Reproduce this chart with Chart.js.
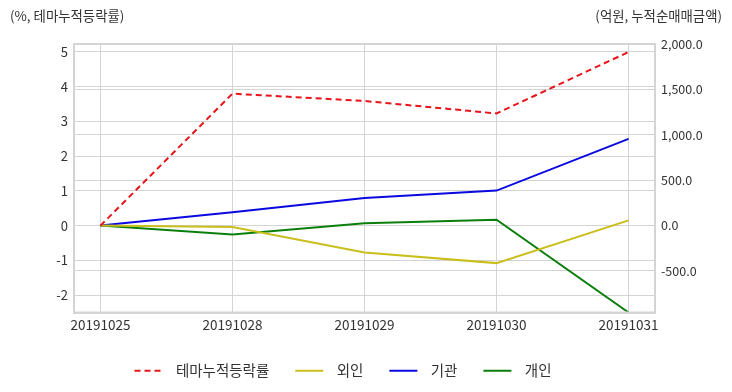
<!DOCTYPE html>
<html>
<head>
<meta charset="utf-8">
<script src="https://cdn.jsdelivr.net/npm/chart.js@4/dist/chart.umd.min.js"></script>
<style>
  html, body { margin: 0; padding: 0; background: #fff; }
  #wrap { width: 732px; height: 392px; position: relative; }
</style>
</head>
<body>
<div id="wrap"><canvas id="themeChart"></canvas></div>
<script>
const dates = ["20191025", "20191028", "20191029", "20191030", "20191031"];
const themeRate = [0, 3.80, 3.59, 3.23, 5.00];     // %, left axis
const foreign = [0, -17, -296, -414, 57];           // 억원, right axis
const institution = [0, 146, 304, 385, 955];
const individual = [0, -100, 24, 65, -958];
const leftTicks = [-2, -1, 0, 1, 2, 3, 4, 5];
const rightTicks = [-500, 0, 500, 1000, 1500, 2000];
const leftTitle = "(%, 테마누적등락률)";
const rightTitle = "(억원, 누적순매매금액)";

const FONT = '"Noto Sans CJK KR", "Noto Sans", sans-serif';
const TEXT = "#333";
const GRID = "#d4d4d4";

const toPoints = arr => arr.map((v, i) => ({ x: i, y: v }));

// axis titles at the top corners + frame
const extras = {
  id: "extras",
  beforeDraw(chart) {
    // legend sits a bit left of centre in the original
    chart.legend.left -= 23;
    chart.legend.right -= 23;
  },
  afterDraw(chart) {
    const ctx = chart.ctx;
    const a = chart.chartArea;
    ctx.save();
    ctx.strokeStyle = GRID;
    ctx.lineWidth = 2;
    ctx.strokeRect(a.left, a.top, a.right - a.left, a.bottom - a.top);
    ctx.font = "13.4px " + FONT;
    ctx.fillStyle = TEXT;
    ctx.textBaseline = "middle";
    ctx.textAlign = "left";
    ctx.fillText(leftTitle, 10, 16);
    ctx.textAlign = "right";
    ctx.fillText(rightTitle, 722, 16);
    ctx.restore();
  }
};

const setTicks = list => axis => {
  axis.ticks = list.map(v => ({ value: v }));
};

new Chart(document.getElementById("themeChart"), {
  type: "line",
  data: {
    datasets: [
      { label: "테마누적등락률", data: toPoints(themeRate), yAxisID: "y",
        borderColor: "#e8141a", backgroundColor: "#e8141a", borderDash: [6, 4], borderWidth: 2 },
      { label: "외인", data: toPoints(foreign), yAxisID: "y2",
        borderColor: "#c9bf1c", backgroundColor: "#c9bf1c", borderWidth: 2 },
      { label: "기관", data: toPoints(institution), yAxisID: "y2",
        borderColor: "#0a0ae0", backgroundColor: "#0a0ae0", borderWidth: 2 },
      { label: "개인", data: toPoints(individual), yAxisID: "y2",
        borderColor: "#0b7f0b", backgroundColor: "#0b7f0b", borderWidth: 2 }
    ]
  },
  options: {
    responsive: true,
    maintainAspectRatio: false,
    animation: false,
    layout: { padding: { top: 44, bottom: 4, left: 0, right: 0 } },
    elements: { point: { radius: 0 }, line: { tension: 0 } },
    scales: {
      x: {
        type: "linear",
        min: -0.2,
        max: 4.2,
        afterBuildTicks: setTicks([0, 1, 2, 3, 4]),
        afterFit: s => { s.height = 25; },
        grid: { color: GRID, drawTicks: false },
        border: { color: GRID, width: 2 },
        ticks: {
          autoSkip: false,
          padding: 4,
          maxRotation: 0,
          color: TEXT,
          font: { family: FONT, size: 13.5 },
          callback: v => dates[v]
        }
      },
      y: {
        position: "left",
        min: -2.5,
        max: 5.23,
        afterBuildTicks: setTicks(leftTicks),
        afterFit: s => { s.width = 74; },
        grid: { color: GRID, drawTicks: false },
        border: { color: GRID, width: 2 },
        ticks: {
          autoSkip: false,
          padding: 6,
          color: TEXT,
          font: { family: FONT, size: 13 }
        }
      },
      y2: {
        position: "right",
        min: -958,
        max: 2000,
        afterBuildTicks: setTicks(rightTicks),
        afterFit: s => { s.width = 77; },
        grid: { color: GRID, drawTicks: false },
        border: { color: GRID, width: 2 },
        ticks: {
          autoSkip: false,
          padding: 6,
          color: TEXT,
          font: { family: FONT, size: 12.5 },
          callback: v => v.toLocaleString("en-US", { minimumFractionDigits: 1, maximumFractionDigits: 1 })
        }
      }
    },
    plugins: {
      legend: {
        position: "bottom",
        labels: {
          boxWidth: 28,
          boxHeight: 0,
          padding: 26,
          color: TEXT,
          font: { family: FONT, size: 14.5 },
          generateLabels: chart => {
            const items = Chart.defaults.plugins.legend.labels.generateLabels(chart);
            items.forEach(it => { it.text = "\u2009 " + it.text; });
            return items;
          }
        }
      },
      tooltip: { enabled: false }
    }
  },
  plugins: [extras]
});
</script>
</body>
</html>
